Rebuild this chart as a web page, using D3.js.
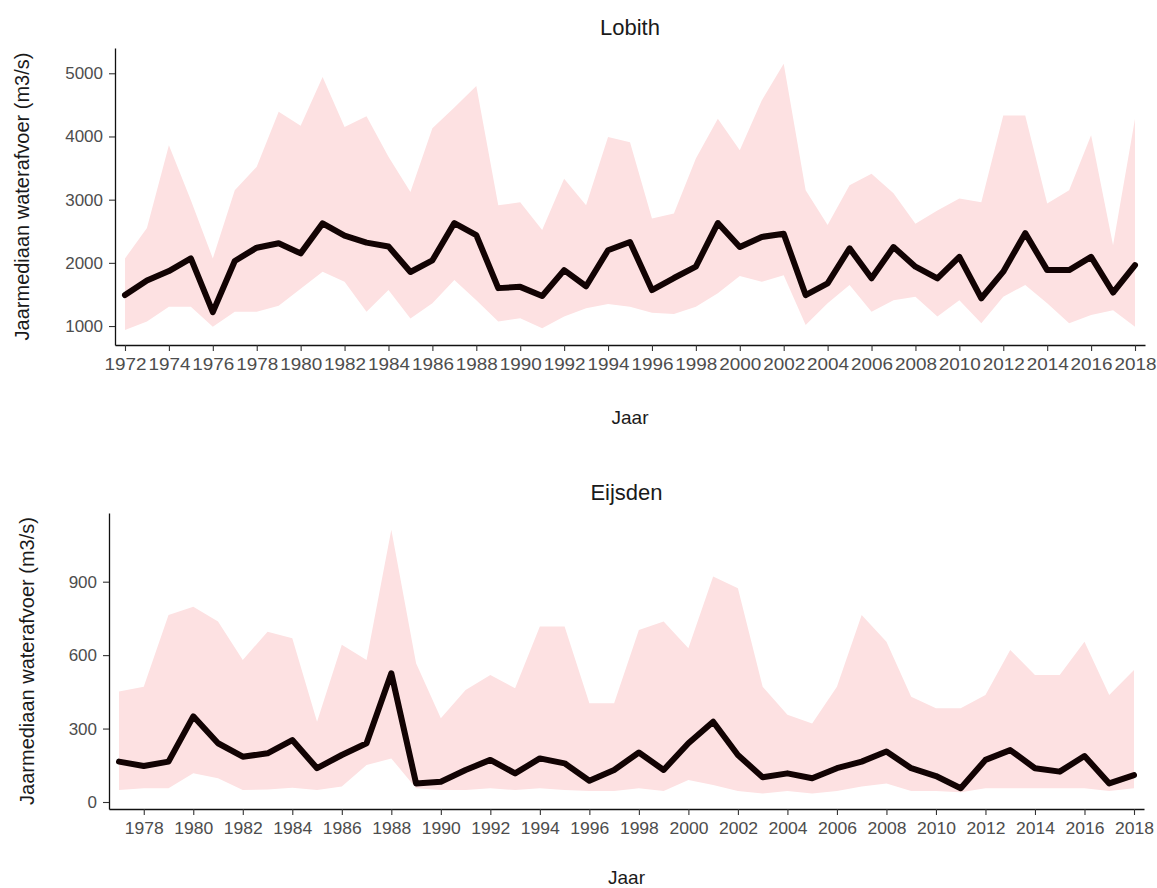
<!DOCTYPE html>
<html>
<head>
<meta charset="utf-8">
<script src="https://cdn.jsdelivr.net/npm/d3@7"></script>
<style>
  html, body { margin: 0; padding: 0; background: #ffffff; }
  svg { display: block; font-family: "Liberation Sans", Arial, Helvetica, sans-serif; }
</style>
</head>
<body>
<svg id="chart" width="1157" height="888"></svg>
<script>
// ---------- DATA ----------
const lobithYears = [1972,1973,1974,1975,1976,1977,1978,1979,1980,1981,1982,1983,1984,1985,1986,1987,1988,1989,1990,1991,1992,1993,1994,1995,1996,1997,1998,1999,2000,2001,2002,2003,2004,2005,2006,2007,2008,2009,2010,2011,2012,2013,2014,2015,2016,2017,2018];
const lobithMedian = [1490,1720,1870,2070,1220,2030,2240,2310,2150,2625,2430,2320,2260,
  1855,2040,2630,2440,1600,1620,1475,1885,1630,2200,2330,1570,1760,1940,2630,2250,2410,
  2460,1490,1675,2230,1755,2250,1940,1755,2095,1440,1860,2470,1885,1885,2095,1530,1965];
const lobithUpper = [2070,2550,3860,2990,2070,3150,3520,4390,4170,4940,4150,4320,3680,
  3120,4130,4460,4800,2910,2960,2520,3330,2910,3990,3910,2700,2780,3650,4280,3780,4570,
  5150,3150,2600,3230,3410,3100,2620,2830,3020,2960,4330,4330,2940,3150,4020,2280,4280];
const lobithLower = [937,1070,1305,1305,990,1226,1226,1320,1590,1860,1700,1226,1570,
  1120,1360,1730,1410,1070,1125,965,1150,1280,1350,1305,1210,1190,1305,1520,1790,1700,
  1805,1015,1360,1650,1226,1410,1465,1150,1410,1045,1465,1650,1360,1045,1175,1250,990];
const lobithYTicks = [1000,2000,3000,4000,5000];
const lobithXTicks = [1972,1974,1976,1978,1980,1982,1984,1986,1988,1990,1992,1994,1996,1998,2000,2002,2004,2006,2008,2010,2012,2014,2016,2018];

const eijsdenYears = [1977,1978,1979,1980,1981,1982,1983,1984,1985,1986,1987,1988,1989,1990,1991,1992,1993,1994,1995,1996,1997,1998,1999,2000,2001,2002,2003,2004,2005,2006,2007,2008,2009,2010,2011,2012,2013,2014,2015,2016,2017,2018];
const eijsdenMedian = [165,147,165,350,240,185,199,253,138,192,240,526,
  76,83,131,172,117,178,158,87,131,202,131,240,328,192,101,
  117,97,138,165,206,138,106,56,172,212,138,124,188,76,110];
const eijsdenUpper = [451,471,764,798,737,580,696,669,328,642,580,1112,
  567,342,458,519,465,717,717,403,403,703,737,628,921,873,471,
  356,321,471,764,655,430,383,383,437,621,519,519,655,437,539];
const eijsdenLower = [49,56,56,117,97,49,51,58,49,63,151,178,
  56,49,49,56,49,56,49,45,45,56,45,90,69,45,35,
  45,35,45,63,76,45,45,40,56,56,56,56,56,45,56];
const eijsdenYTicks = [0,300,600,900];
const eijsdenXTicks = [1978,1980,1982,1984,1986,1988,1990,1992,1994,1996,1998,2000,2002,2004,2006,2008,2010,2012,2014,2016,2018];

const yTitle = "Jaarmediaan waterafvoer (m3/s)";
const xTitle = "Jaar";

// ---------- DRAW ----------
const svg = d3.select("#chart");

function panel(cfg) {
  const g = svg.append("g");
  const x = d3.scaleLinear().domain(cfg.xDomain).range([cfg.left, cfg.right]);
  const y = d3.scaleLinear().domain(cfg.yDomain).range([cfg.bottom, cfg.top]);
  const rows = cfg.years.map((yr, i) => ({yr, m: cfg.median[i], lo: cfg.lower[i], hi: cfg.upper[i]}));

  g.append("path")
    .datum(rows)
    .attr("fill", "#fde1e2")
    .attr("d", d3.area().x(d => x(d.yr)).y0(d => y(d.lo)).y1(d => y(d.hi)));

  g.append("path")
    .datum(rows)
    .attr("fill", "none")
    .attr("stroke", "#120303")
    .attr("stroke-width", 6)
    .attr("stroke-linejoin", "round")
    .attr("stroke-linecap", "round")
    .attr("d", d3.line().x(d => x(d.yr)).y(d => y(d.m)));

  const ya = g.append("g")
    .attr("transform", `translate(${cfg.left},0)`)
    .call(d3.axisLeft(y).tickValues(cfg.yTicks).tickSize(6).tickSizeOuter(0).tickPadding(6).tickFormat(d3.format("d")));
  ya.select(".domain").attr("stroke", "#111").attr("stroke-width", 1.3);
  ya.selectAll(".tick line").attr("stroke", "#333").attr("stroke-width", 1.1);
  ya.selectAll(".tick text").attr("fill", "#4d4d4d").style("font-size", "17px");

  const xa = g.append("g")
    .attr("transform", `translate(0,${cfg.bottom})`)
    .call(d3.axisBottom(x).tickValues(cfg.xTicks).tickSize(6).tickSizeOuter(0).tickPadding(7).tickFormat(d3.format("d")));
  xa.select(".domain").attr("stroke", "#111").attr("stroke-width", 1.3);
  xa.selectAll(".tick line").attr("stroke", "#333").attr("stroke-width", 1.1);
  xa.selectAll(".tick text").attr("fill", "#4d4d4d").style("font-size", cfg.xFont + "px")
    .attr("textLength", cfg.xLen).attr("lengthAdjust", "spacingAndGlyphs");

  const cx = (cfg.left + cfg.right) / 2;
  g.append("text").attr("x", cx).attr("y", cfg.titleY)
    .attr("text-anchor", "middle").attr("fill", "#1a1a1a").style("font-size", "22px").text(cfg.title);
  g.append("text").attr("x", cx).attr("y", cfg.xTitleY)
    .attr("text-anchor", "middle").attr("fill", "#1a1a1a").style("font-size", "19px").text(xTitle);
  g.append("text")
    .attr("transform", `translate(${cfg.yTitleX},${(cfg.top + cfg.bottom) / 2}) rotate(-90)`)
    .attr("text-anchor", "middle").attr("fill", "#1a1a1a").style("font-size", "20px").text(yTitle);
}

panel({
  years: lobithYears, median: lobithMedian, upper: lobithUpper, lower: lobithLower,
  yTicks: lobithYTicks, xTicks: lobithXTicks,
  xDomain: [1971.545, 2018.455], yDomain: [700, 5400],
  left: 115, right: 1145, top: 48, bottom: 345,
  xFont: 17, xLen: 42,
  title: "Lobith", titleY: 35, xTitleY: 424, yTitleX: 29
});

panel({
  years: eijsdenYears, median: eijsdenMedian, upper: eijsdenUpper, lower: eijsdenLower,
  yTicks: eijsdenYTicks, xTicks: eijsdenXTicks,
  xDomain: [1976.596, 2018.404], yDomain: [-28.6, 1180.6],
  left: 109, right: 1144, top: 513, bottom: 809,
  xFont: 17, xLen: 39,
  title: "Eijsden", titleY: 500, xTitleY: 884, yTitleX: 34
});
</script>
</body>
</html>
